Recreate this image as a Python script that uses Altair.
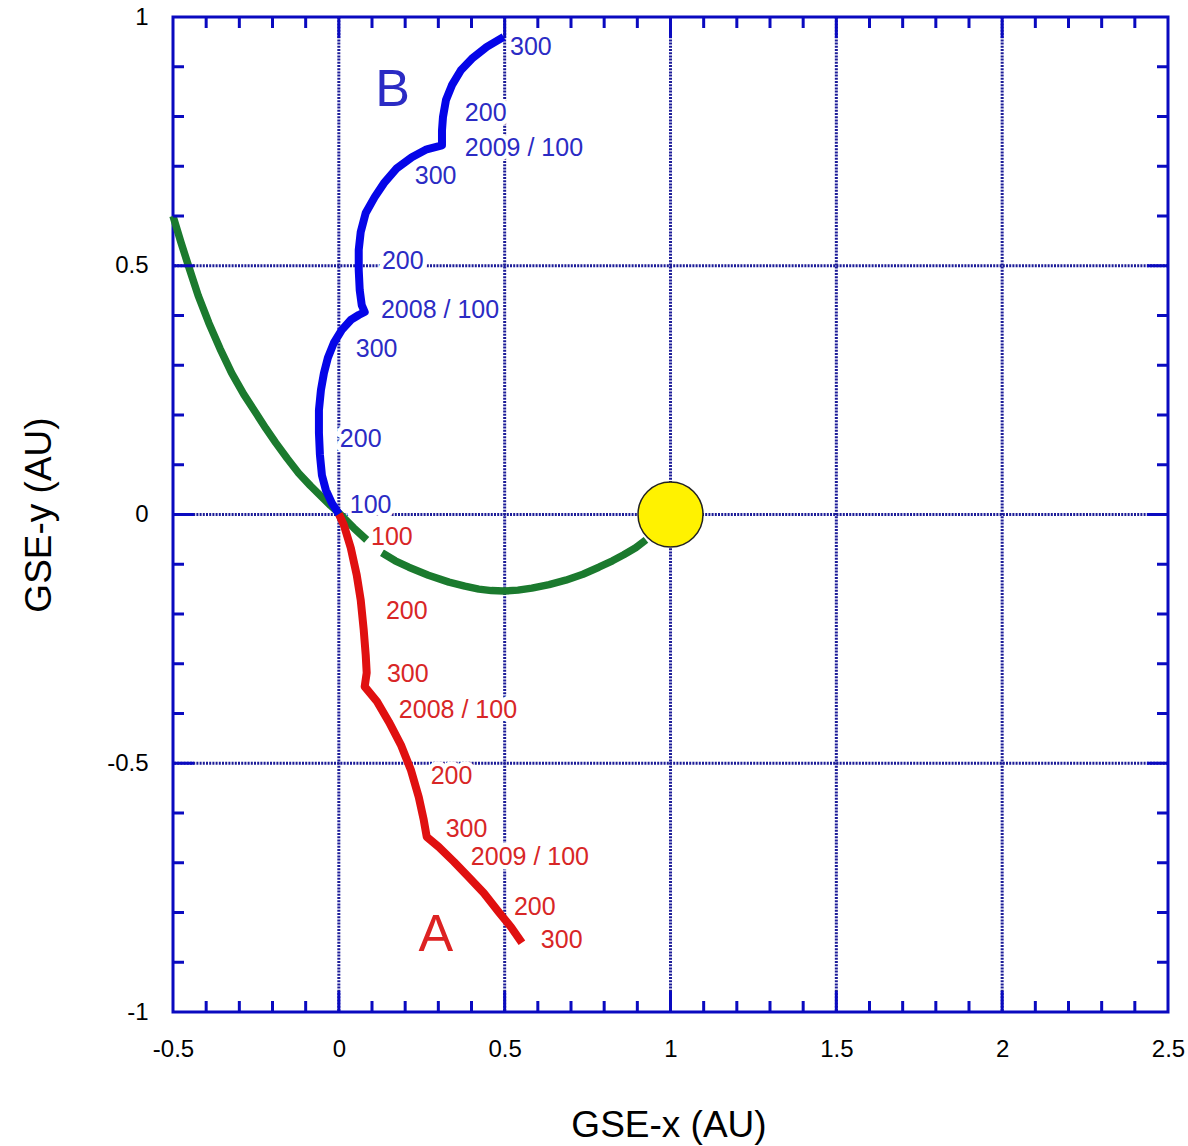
import altair as alt
import pandas as pd

# ---------------- data ----------------
# Trajectory B (blue), GSE coordinates in AU
b_x = [0.000, -0.021, -0.039, -0.051, -0.057, -0.060, -0.060, -0.054, -0.045, -0.033, -0.015, 0.009,
       0.036, 0.060, 0.078, 0.069, 0.063, 0.060, 0.060, 0.066, 0.081, 0.108, 0.136, 0.175, 0.220,
       0.265, 0.311, 0.311, 0.314, 0.323, 0.341, 0.368, 0.404, 0.446, 0.497]
b_y = [0.001, 0.023, 0.049, 0.079, 0.120, 0.164, 0.210, 0.250, 0.284, 0.315, 0.345, 0.371,
       0.391, 0.401, 0.407, 0.421, 0.451, 0.491, 0.532, 0.568, 0.606, 0.638, 0.666, 0.696, 0.718,
       0.734, 0.742, 0.772, 0.799, 0.833, 0.863, 0.893, 0.918, 0.940, 0.960]

# Trajectory A (red)
a_x = [0.000, 0.015, 0.036, 0.054, 0.066, 0.075, 0.081, 0.084, 0.078, 0.115, 0.151, 0.187,
       0.217, 0.241, 0.256, 0.265, 0.301, 0.347, 0.392, 0.437, 0.482, 0.519, 0.552]
a_y = [0.001, -0.021, -0.067, -0.122, -0.172, -0.232, -0.282, -0.318, -0.346, -0.376, -0.417, -0.463,
       -0.513, -0.568, -0.614, -0.648, -0.668, -0.698, -0.729, -0.761, -0.799, -0.829, -0.861]

# Green curve (two segments)
g_x = [-0.500, -0.476, -0.452, -0.424, -0.392, -0.358, -0.323, -0.287, -0.250, -0.220, -0.190,
       -0.156, -0.121, -0.086, -0.051, -0.025, 0.000, 0.045, 0.084,
       0.130, 0.170, 0.211, 0.270, 0.332, 0.380, 0.422, 0.460, 0.497, 0.540, 0.582, 0.634,
       0.684, 0.736, 0.784, 0.825, 0.859, 0.895, 0.926]
g_y = [0.600, 0.547, 0.497, 0.440, 0.385, 0.333, 0.284, 0.242, 0.204, 0.173, 0.144,
       0.113, 0.083, 0.058, 0.035, 0.018, 0.003, -0.027, -0.051,
       -0.077, -0.093, -0.106, -0.122, -0.136, -0.144, -0.150, -0.153, -0.154, -0.152, -0.148, -0.141,
       -0.132, -0.120, -0.106, -0.093, -0.081, -0.067, -0.051]
g_seg = [1] * 19 + [2] * 19

# Sun
sun_x = [1.0]
sun_y = [0.0]

# Labels along B (left edge x, centre y)
bl_text = ["300", "200", "2009 / 100", "300", "200", "2008 / 100", "300", "200", "100"]
bl_x = [0.516, 0.380, 0.380, 0.229, 0.130, 0.127, 0.051, 0.003, 0.033]
bl_y = [0.940, 0.807, 0.736, 0.680, 0.510, 0.411, 0.333, 0.152, 0.019]

# Labels along A
al_text = ["100", "200", "300", "2008 / 100", "200", "300", "2009 / 100", "200", "300"]
al_x = [0.097, 0.142, 0.145, 0.181, 0.277, 0.322, 0.398, 0.528, 0.609]
al_y = [-0.045, -0.194, -0.321, -0.393, -0.525, -0.632, -0.688, -0.789, -0.855]

# Big letters
big_text = ["B", "A"]
big_x = [0.110, 0.240]
big_y = [0.853, -0.845]
big_color = ["#2b2bc4", "#dd2222"]

# Axis ticks / grid
x_major = [-0.5, 0.0, 0.5, 1.0, 1.5, 2.0, 2.5]
y_major = [-1.0, -0.5, 0.0, 0.5, 1.0]
x_grid = [0.0, 0.5, 1.0, 1.5, 2.0]
y_grid = [-0.5, 0.0, 0.5]
x_minor = [-0.4, -0.3, -0.2, -0.1, 0.1, 0.2, 0.3, 0.4, 0.6, 0.7, 0.8, 0.9, 1.1, 1.2, 1.3, 1.4,
           1.6, 1.7, 1.8, 1.9, 2.1, 2.2, 2.3, 2.4]
y_minor = [-0.9, -0.8, -0.7, -0.6, -0.4, -0.3, -0.2, -0.1, 0.1, 0.2, 0.3, 0.4, 0.6, 0.7, 0.8, 0.9]

# ---------------- chart ----------------
W, H = 995, 995
FRAME = "#0a0ac0"
FONT = "Liberation Sans"

xs = alt.Scale(domain=[-0.5, 2.5], nice=False, zero=False)
ys = alt.Scale(domain=[-1, 1], nice=False, zero=False)

common_axis = dict(domain=False, ticks=False, tickSize=0, grid=False, labelPadding=25,
                   labelFlush=False, labelFont=FONT, labelFontSize=24, labelColor="black",
                   titleFont=FONT, titleFontSize=37, titleFontWeight="normal", titleColor="black",
                   labelExpr="'' + datum.value", titleBaseline="middle")
x_axis = alt.Axis(values=x_major, title="GSE-x (AU)", titleX=W / 2 - 2, titleY=113, **common_axis)
y_axis = alt.Axis(values=y_major, title="GSE-y (AU)", titleX=-134, titleY=H / 2, titleAngle=-90,
                  **common_axis)


def X(field):
    return alt.X(field, type="quantitative", scale=xs, axis=x_axis)


def Y(field):
    return alt.Y(field, type="quantitative", scale=ys, axis=y_axis)


green_df = pd.DataFrame({"x": g_x, "y": g_y, "seg": g_seg, "o": range(len(g_x))})
red_df = pd.DataFrame({"x": a_x, "y": a_y, "o": range(len(a_x))})
blue_df = pd.DataFrame({"x": b_x, "y": b_y, "o": range(len(b_x))})
sun_df = pd.DataFrame({"x": sun_x, "y": sun_y})
bl_df = pd.DataFrame({"x": bl_x, "y": bl_y, "t": bl_text})
al_df = pd.DataFrame({"x": al_x, "y": al_y, "t": al_text})
big_df = pd.DataFrame({"x": big_x, "y": big_y, "t": big_text, "c": big_color})

GRID = dict(color="#1c1c98", strokeWidth=3, strokeDash=[2, 1.2])
gridx = alt.Chart(pd.DataFrame({"x": x_grid})).mark_rule(**GRID).encode(x=X("x:Q"))
gridy = alt.Chart(pd.DataFrame({"y": y_grid})).mark_rule(**GRID).encode(y=Y("y:Q"))

green = alt.Chart(green_df).mark_line(color="#1b7a2e", strokeWidth=7.5, strokeJoin="round").encode(
    x=X("x:Q"), y=Y("y:Q"), detail="seg:N", order="o:Q")
red = alt.Chart(red_df).mark_line(color="#e01010", strokeWidth=8, strokeJoin="round").encode(
    x=X("x:Q"), y=Y("y:Q"), order="o:Q")
blue = alt.Chart(blue_df).mark_line(color="#0505e8", strokeWidth=8, strokeJoin="round").encode(
    x=X("x:Q"), y=Y("y:Q"), order="o:Q")
sun = alt.Chart(sun_df).mark_point(filled=True, shape="circle", size=4225, fill="#fff200",
                                   stroke="#222222", strokeWidth=1.5, opacity=1).encode(
    x=X("x:Q"), y=Y("y:Q"))


def labels(df, color, size):
    base = alt.Chart(df)
    mask = base.mark_text(align="left", baseline="middle", font=FONT, fontSize=size,
                          fill="white", stroke="white", strokeWidth=9,
                          strokeJoin="round").encode(x=X("x:Q"), y=Y("y:Q"), text="t:N")
    txt = base.mark_text(align="left", baseline="middle", font=FONT, fontSize=size,
                         color=color).encode(x=X("x:Q"), y=Y("y:Q"), text="t:N")
    return mask, txt


bmask, btxt = labels(bl_df, "#2b2bc4", 25)
amask, atxt = labels(al_df, "#d82626", 25)
big = alt.Chart(big_df).mark_text(align="left", baseline="middle", font=FONT, fontSize=52).encode(
    x=X("x:Q"), y=Y("y:Q"), text="t:N", color=alt.Color("c:N", scale=None))


def ticks_x(vals, length):
    d = alt.Chart(pd.DataFrame({"x": vals}))
    bottom = d.mark_rule(color=FRAME, strokeWidth=3).encode(
        x=X("x:Q"), y=alt.value(H), y2=alt.value(H - length))
    top = d.mark_rule(color=FRAME, strokeWidth=3).encode(
        x=X("x:Q"), y=alt.value(0), y2=alt.value(length))
    return [bottom, top]


def ticks_y(vals, length):
    d = alt.Chart(pd.DataFrame({"y": vals}))
    left = d.mark_rule(color=FRAME, strokeWidth=3).encode(
        y=Y("y:Q"), x=alt.value(0), x2=alt.value(length))
    right = d.mark_rule(color=FRAME, strokeWidth=3).encode(
        y=Y("y:Q"), x=alt.value(W), x2=alt.value(W - length))
    return [left, right]


tick_layers = (ticks_x(x_minor, 11) + ticks_x(x_grid, 21) +
               ticks_y(y_minor, 11) + ticks_y(y_grid, 21))

chart = alt.layer(
    gridx, gridy, green, red, blue, sun, bmask, amask, btxt, atxt, big, *tick_layers
).properties(
    width=W, height=H,
    background="white",
    autosize=alt.AutoSizeParams(type="none"),
    padding={"left": 173, "top": 17, "right": 20, "bottom": 134},
).configure_view(
    stroke=FRAME, strokeWidth=3
)

chart.save("out.html", embed_options={"renderer": "svg", "actions": False})
